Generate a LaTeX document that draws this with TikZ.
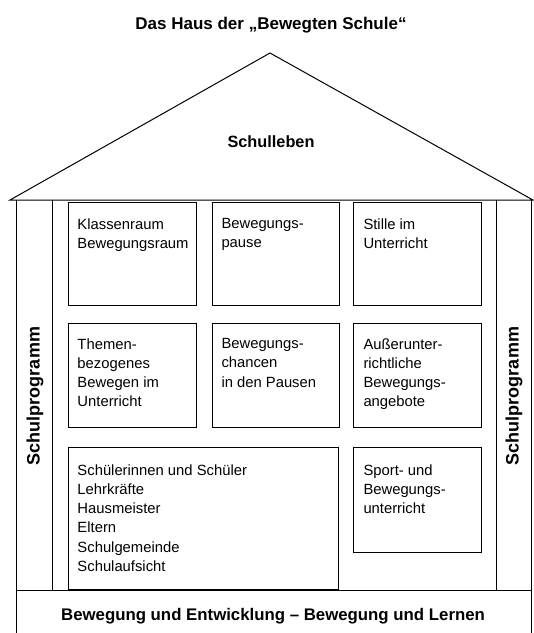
\documentclass[tikz,border=0pt]{standalone}
\usepackage{fontspec}
\setmainfont{Liberation Sans}
\usetikzlibrary{positioning,calc}

\begin{document}
\begin{tikzpicture}[x=1pt, y=-1pt, line width=1pt,
    room/.style={draw, line width=1.2pt, anchor=north west, inner sep=0,
      minimum width=128pt, minimum height=103pt},
    roomtext/.style={anchor=north west, inner sep=0, align=left,
      font=\fontsize{14.8}{19.2}\selectfont},
    heading/.style={inner sep=0, font=\bfseries\fontsize{17}{20}\selectfont},
    pillartext/.style={inner sep=0, rotate=90,
      font=\bfseries\fontsize{18}{20}\selectfont}]
  \useasboundingbox (0,0) rectangle (534,633);
  \coordinate (roofleft) at (10,200);
  \coordinate (apex) at (270,53);
  \coordinate (roofright) at (533,200);
  \draw (roofleft) -- (apex) -- (roofright) -- cycle;
  \draw (16,200) -- (16,633);
  \draw (52,200) -- (52,590);
  \draw (496,200) -- (496,590);
  \draw (531,200) -- (531,633);
  \draw (16,590) -- (531,590);
  \node[heading] (title) at (271,25) {Das Haus der „Bewegten Schule“};
  \node[heading, font=\bfseries\fontsize{16.3}{20}\selectfont] (leben) at (271,142) {Schulleben};
  \node[pillartext] (progleft) at (35,396) {Schulprogramm};
  \node[pillartext] (progright) at (514,396) {Schulprogramm};
  \node[heading, font=\bfseries\fontsize{16.8}{20}\selectfont] (base) at (273,616)
    {Bewegung und Entwicklung -- Bewegung und Lernen};
  \node[room] (klasse) at (68,202) {};
  \node[room, minimum width=127pt] (pause) at (212,202) {};
  \node[room] (stille) at (353,202) {};
  \node[room, minimum height=104pt] (themen) at (68,323) {};
  \node[room, minimum width=127pt, minimum height=104pt] (chancen) at (212,323) {};
  \node[room, minimum height=104pt] (angebote) at (353,323) {};
  \node[room, minimum width=270pt, minimum height=142pt] (leute) at (68,447) {};
  \node[room, minimum height=105pt] (sport) at (353,447) {};
  \node[roomtext] (klassetext) at ($(klasse.north west)+(9,16)$) {Klassenraum\\Bewegungsraum};
  \node[roomtext] (pausetext) at ($(pause.north west)+(9,16)$) {Bewegungs-\\pause};
  \node[roomtext] (stilletext) at ($(stille.north west)+(10,16)$) {Stille im\\Unterricht};
  \node[roomtext] (thementext) at ($(themen.north west)+(9,15)$) {Themen-\\bezogenes\\Bewegen im\\Unterricht};
  \node[roomtext] (chancentext) at ($(chancen.north west)+(9,15)$) {Bewegungs-\\chancen\\in den Pausen};
  \node[roomtext] (angebotetext) at ($(angebote.north west)+(10,15)$) {Außerunter-\\richtliche\\Bewegungs-\\angebote};
  \node[roomtext] (leutetext) at ($(leute.north west)+(9,17)$) {Schülerinnen und Schüler\\Lehrkräfte\\Hausmeister\\Eltern\\Schulgemeinde\\Schulaufsicht};
  \node[roomtext] (sporttext) at ($(sport.north west)+(10,17)$) {Sport- und\\Bewegungs-\\unterricht};
\end{tikzpicture}
\end{document}
